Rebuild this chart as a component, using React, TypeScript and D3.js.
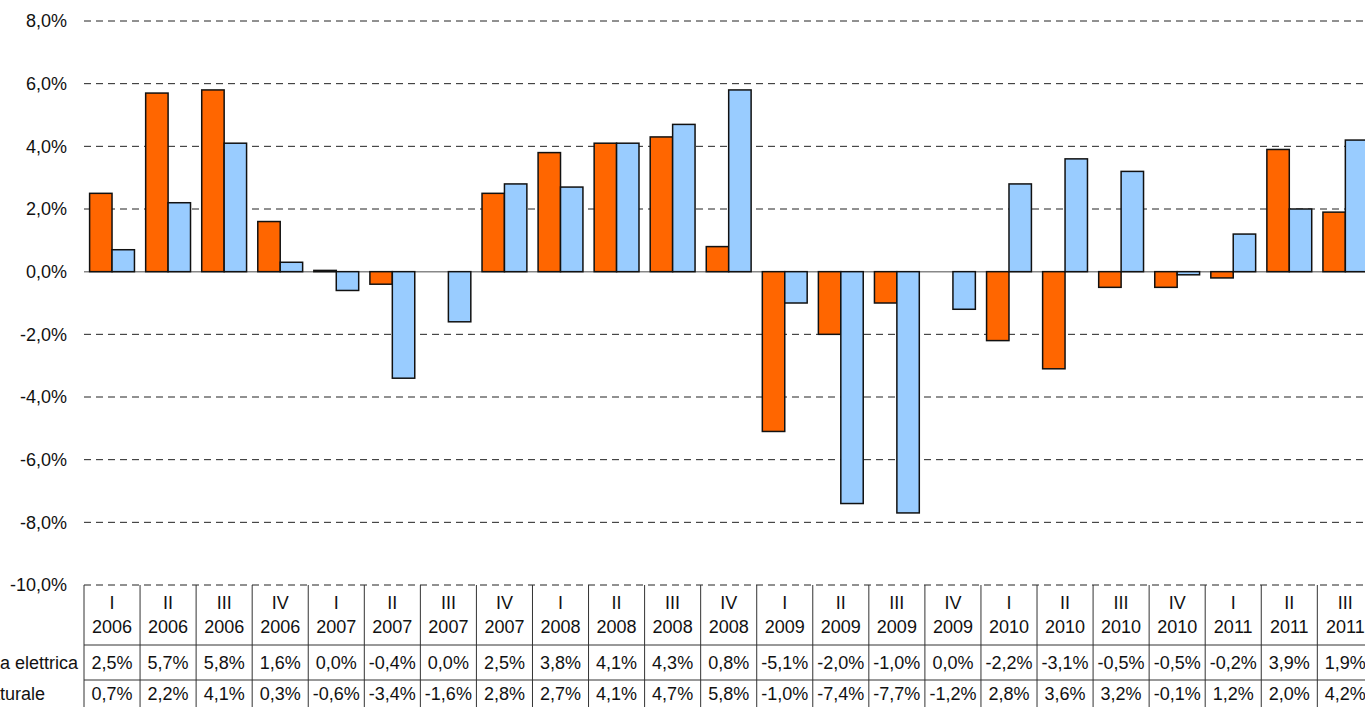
import React from "react";
import * as d3 from "d3";

const quarters = ["I","II","III","IV","I","II","III","IV","I","II","III","IV","I","II","III","IV","I","II","III","IV","I","II","III"];
const years = ["2006","2006","2006","2006","2007","2007","2007","2007","2008","2008","2008","2008","2009","2009","2009","2009","2010","2010","2010","2010","2011","2011","2011"];
const energiaElettrica = [2.5,5.7,5.8,1.6,0.04,-0.4,0.0,2.5,3.8,4.1,4.3,0.8,-5.1,-2.0,-1.0,0.0,-2.2,-3.1,-0.5,-0.5,-0.2,3.9,1.9];
const gasNaturale = [0.7,2.2,4.1,0.3,-0.6,-3.4,-1.6,2.8,2.7,4.1,4.7,5.8,-1.0,-7.4,-7.7,-1.2,2.8,3.6,3.2,-0.1,1.2,2.0,4.2];
const seriesNames = ["Energia elettrica", "Gas naturale"];
const seriesColors = ["#FF6600", "#99CCFF"];
const yTicks = [8,6,4,2,0,-2,-4,-6,-8,-10];

const W = 1365, H = 707;
const left = 84, step = 56.06;
const font = "'Liberation Sans', Arial, sans-serif";

const loc = d3.formatLocale({ decimal: ",", thousands: ".", grouping: [3], currency: ["", "€"], minus: "-" });
const f1 = loc.format(".1f");
const pct = (v: number) => f1(v) + "%";

export default function App() {
  const cats = quarters.map((q, i) => `${q} ${years[i]}`);
  const x = d3.scaleBand<string>().domain(cats).range([left, left + step * cats.length]).paddingInner(0.2).paddingOuter(0.1);
  const xs = d3.scaleBand<string>().domain(seriesNames).range([0, x.bandwidth()]).padding(0);
  const y = d3.scaleLinear().domain([-10, 8]).range([585, 21]);
  const series = [energiaElettrica, gasNaturale];
  const colLeft = (i: number) => left + i * x.step();
  const tableTop = y(-10);
  const rowLines = [645, 680];
  const rowCenters = [663, 694];

  return (
    <svg width={W} height={H} style={{ position: "absolute", left: 0, top: 0, background: "#fff" }} fontFamily={font}>
      {yTicks.map((t) => (
        <g key={t}>
          {t !== 0 && (
            <line x1={left} x2={W + 20} y1={y(t)} y2={y(t)} stroke="#222" strokeWidth={1} strokeDasharray="7,5" />
          )}
          <text x={67} y={y(t)} dy="0.35em" textAnchor="end" fontSize={18} fill="#111">{pct(t)}</text>
        </g>
      ))}
      <line x1={left} x2={W + 20} y1={y(0)} y2={y(0)} stroke="#888" strokeWidth={1.5} />
      {series.map((vals, s) => (
        <g key={s}>
          {vals.map((v, i) => {
            const bx = (x(cats[i]) as number) + (xs(seriesNames[s]) as number);
            const y0 = y(Math.max(0, v));
            const h = Math.abs(y(v) - y(0));
            return (
              <rect key={i} x={bx} y={y0} width={xs.bandwidth()} height={h}
                fill={seriesColors[s]} stroke="#111" strokeWidth={1.5} />
            );
          })}
        </g>
      ))}
      {cats.map((c, i) => (
        <line key={"v" + i} x1={colLeft(i)} x2={colLeft(i)} y1={tableTop} y2={H} stroke="#333" strokeWidth={1} />
      ))}
      <line x1={colLeft(cats.length)} x2={colLeft(cats.length)} y1={tableTop} y2={H} stroke="#333" strokeWidth={1} />
      {rowLines.map((ry) => (
        <line key={ry} x1={left} x2={W + 20} y1={ry} y2={ry} stroke="#333" strokeWidth={1} />
      ))}
      {cats.map((c, i) => {
        const cx = colLeft(i) + x.step() / 2;
        return (
          <g key={"t" + i} fontSize={18} fill="#111" textAnchor="middle">
            <text x={cx} y={603} dy="0.35em">{quarters[i]}</text>
            <text x={cx} y={627} dy="0.35em">{years[i]}</text>
            <text x={cx} y={rowCenters[0]} dy="0.35em">{pct(energiaElettrica[i])}</text>
            <text x={cx} y={rowCenters[1]} dy="0.35em">{pct(gasNaturale[i])}</text>
          </g>
        );
      })}
      {seriesNames.map((n, s) => (
        <text key={n} x={s === 0 ? -52 : -58} y={rowCenters[s]} dy="0.35em" fontSize={18} fill="#111">{n}</text>
      ))}
    </svg>
  );
}
